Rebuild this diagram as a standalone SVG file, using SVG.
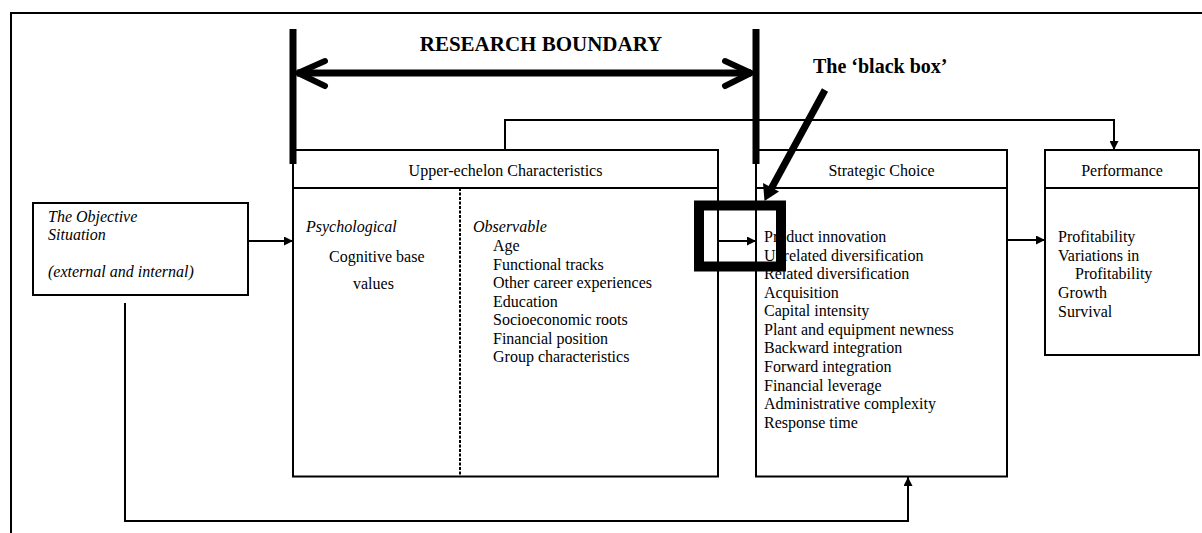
<svg xmlns="http://www.w3.org/2000/svg" width="1202" height="533" viewBox="0 0 1202 533">
  <style>
    .box{fill:#fff;stroke:#000;stroke-width:2}
    .ln{fill:none;stroke:#000;stroke-width:2}
    .t{font-family:"Liberation Serif","Times New Roman",serif;font-size:16px;fill:#000}
    .i{font-style:italic}
    .b{font-weight:bold}
    .c{text-anchor:middle}
    .heavy{fill:none;stroke:#000;stroke-width:7;stroke-linecap:butt}
    .chev{fill:none;stroke:#000;stroke-width:6;stroke-linecap:round;stroke-linejoin:round}
  </style>
  <defs>
    <marker id="ah" viewBox="0 0 10 10" refX="10" refY="5" markerWidth="9" markerHeight="9" markerUnits="userSpaceOnUse" orient="auto">
      <path d="M0,0 L10,5 L0,10 z" fill="#000"/>
    </marker>
  </defs>

  <rect width="1202" height="533" fill="#fff"/>

  <!-- outer frame -->
  <path class="ln" d="M11,533 V13 H1202" stroke-width="2.5"/>

  <!-- connectors -->
  <g id="connectors">
    <path class="ln" d="M248,241 H293" marker-end="url(#ah)"/>
    <path class="ln" d="M718,241 H756" marker-end="url(#ah)"/>
    <path class="ln" d="M1007,240 H1045" marker-end="url(#ah)"/>
    <path class="ln" d="M505,150 V120 H1114 V150" marker-end="url(#ah)"/>
    <path class="ln" d="M125,303 V521 H908 V477" marker-end="url(#ah)"/>
  </g>

  <g id="objective-situation">
    <rect class="box" x="33" y="203" width="215" height="92"/>
    <text class="t i" x="48" y="222">The Objective</text>
    <text class="t i" x="48" y="240">Situation</text>
    <text class="t i" x="48" y="277">(external and internal)</text>
  </g>

  <g id="upper-echelon">
    <rect class="box" x="293" y="150" width="425" height="326.5"/>
    <line class="ln" x1="293" y1="188" x2="718" y2="188"/>
    <line class="ln" x1="460" y1="188" x2="460" y2="476.5" stroke-dasharray="3 1.5"/>
    <text class="t c" x="505.5" y="176">Upper-echelon Characteristics</text>
    <text class="t i" x="306" y="232">Psychological</text>
    <text class="t" x="329" y="262">Cognitive base</text>
    <text class="t" x="353" y="289">values</text>
    <text class="t i" x="473" y="232">Observable</text>
    <text class="t" x="493" y="251">Age</text>
    <text class="t" x="493" y="269.5">Functional tracks</text>
    <text class="t" x="493" y="288">Other career experiences</text>
    <text class="t" x="493" y="306.5">Education</text>
    <text class="t" x="493" y="325">Socioeconomic roots</text>
    <text class="t" x="493" y="343.5">Financial position</text>
    <text class="t" x="493" y="362">Group characteristics</text>
  </g>

  <g id="strategic-choice">
    <rect class="box" x="756" y="150" width="251" height="326.5"/>
    <line class="ln" x1="756" y1="188" x2="1007" y2="188"/>
    <text class="t c" x="881.5" y="176">Strategic Choice</text>
    <text class="t" x="764" y="242">Product innovation</text>
    <text class="t" x="764" y="260.6">Unrelated diversification</text>
    <text class="t" x="764" y="279.1">Related diversification</text>
    <text class="t" x="764" y="297.7">Acquisition</text>
    <text class="t" x="764" y="316.3">Capital intensity</text>
    <text class="t" x="764" y="334.9">Plant and equipment newness</text>
    <text class="t" x="764" y="353.4">Backward integration</text>
    <text class="t" x="764" y="372">Forward integration</text>
    <text class="t" x="764" y="390.6">Financial leverage</text>
    <text class="t" x="764" y="409.1">Administrative complexity</text>
    <text class="t" x="764" y="427.7">Response time</text>
  </g>

  <g id="performance">
    <rect class="box" x="1045" y="150" width="154" height="205"/>
    <line class="ln" x1="1045" y1="188" x2="1199" y2="188"/>
    <text class="t c" x="1122" y="176">Performance</text>
    <text class="t" x="1058" y="242">Profitability</text>
    <text class="t" x="1058" y="260.5">Variations in</text>
    <text class="t" x="1075" y="279">Profitability</text>
    <text class="t" x="1058" y="297.5">Growth</text>
    <text class="t" x="1058" y="316.5">Survival</text>
  </g>

  <!-- research boundary markers -->
  <g id="research-boundary">
    <line class="heavy" x1="293" y1="29" x2="293" y2="164"/>
    <line class="heavy" x1="756" y1="29" x2="756" y2="164"/>
    <line class="heavy" x1="297" y1="73" x2="751" y2="73"/>
    <polyline class="chev" points="325,61 298,73 325,86"/>
    <polyline class="chev" points="725,61 751,73 725,86"/>
    <text class="t b c" x="541" y="51" style="font-size:21px">RESEARCH BOUNDARY</text>
  </g>

  <!-- black box callout -->
  <g id="black-box">
    <rect x="699" y="205.5" width="82" height="61" fill="none" stroke="#000" stroke-width="10"/>
    <line x1="825" y1="90" x2="771" y2="189" stroke="#000" stroke-width="7"/>
    <polygon points="764.5,201 763,183 779,191.5" fill="#000"/>
    <text class="t b" x="813" y="73" style="font-size:20px">The ‘black box’</text>
  </g>
</svg>
